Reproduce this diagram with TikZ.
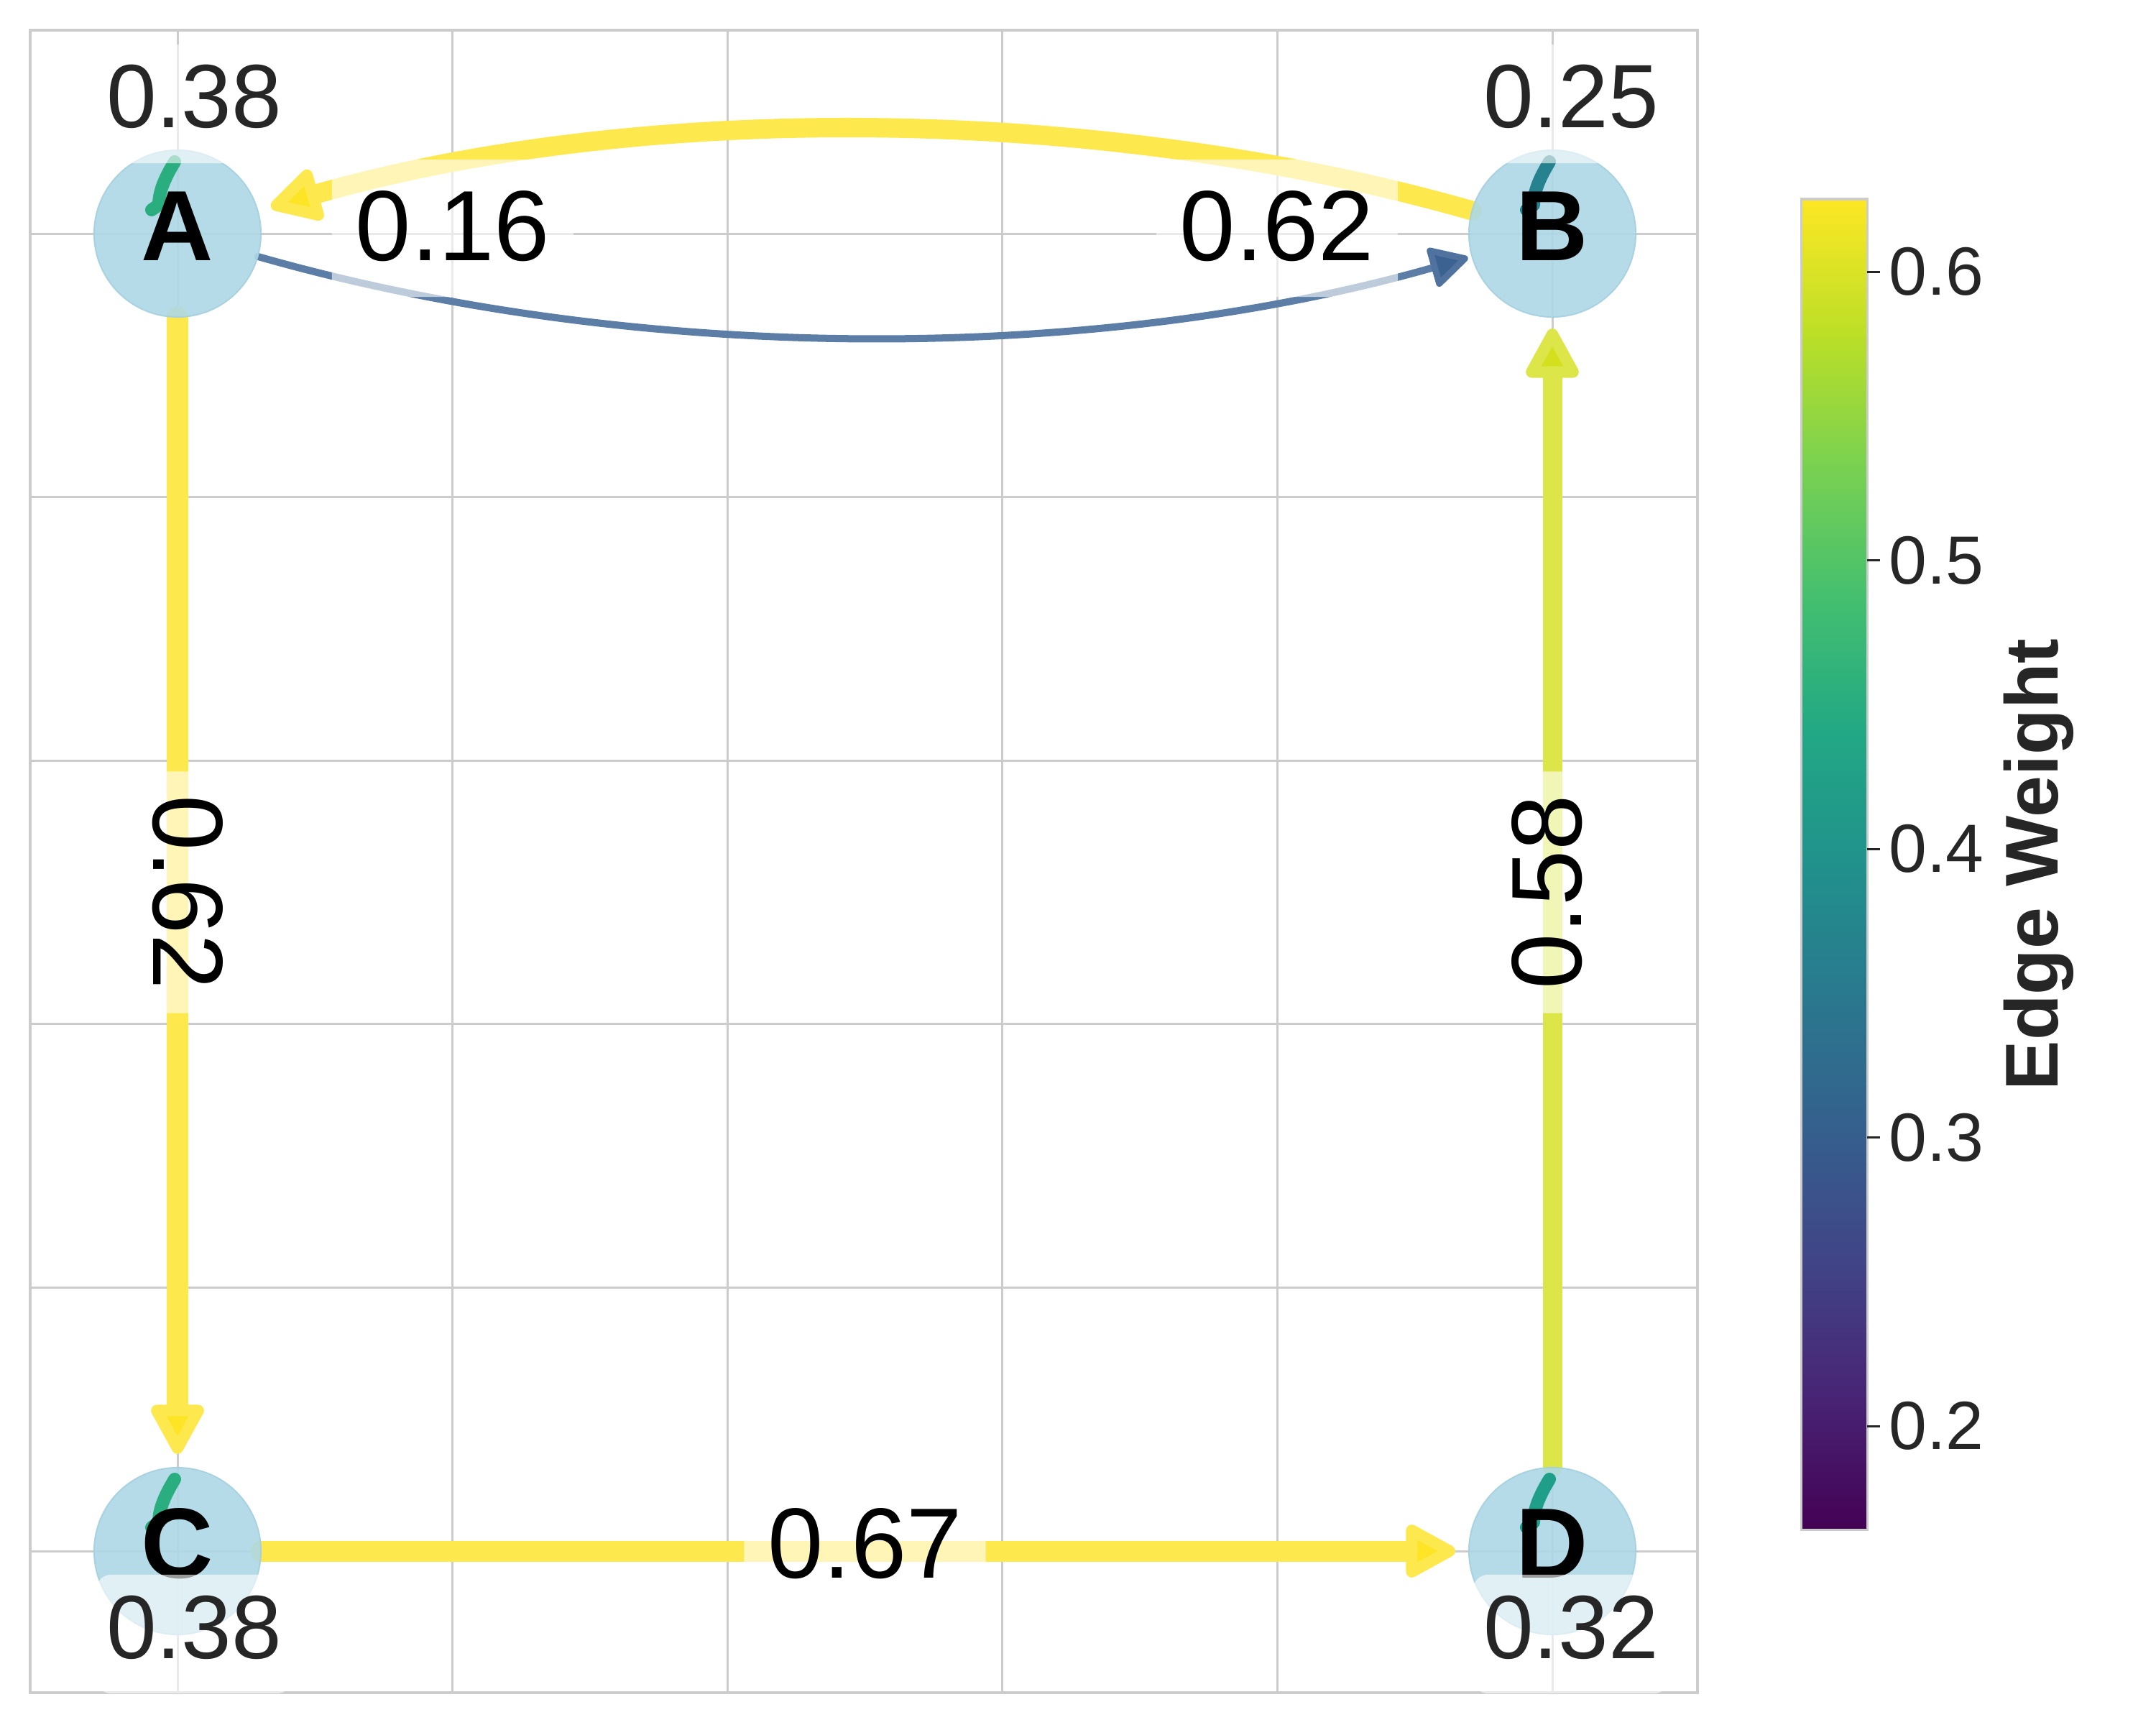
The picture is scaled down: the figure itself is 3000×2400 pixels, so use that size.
\documentclass[tikz,border=0pt]{standalone}
\usepackage{fontspec}
\setmainfont{Liberation Sans}
\usetikzlibrary{arrows.meta,calc}
\definecolor{txt}{RGB}{38,38,38}
\definecolor{gridc}{RGB}{204,204,204}
\definecolor{nodefill}{RGB}{173,216,230}
\definecolor{nodeedge}{RGB}{166,208,224}
\definecolor{yelLine}{RGB}{253,232,77}
\definecolor{yelHead}{RGB}{253,229,37}
\definecolor{limeLine}{RGB}{220,230,72}
\definecolor{limeHead}{RGB}{212,224,30}
\definecolor{bluLine}{RGB}{92,126,166}
\definecolor{bluHead}{RGB}{59,98,144}
\definecolor{bluHeadS}{RGB}{80,114,158}
\definecolor{loopAC}{RGB}{42,174,128}
\definecolor{loopB}{RGB}{38,130,142}
\definecolor{loopD}{RGB}{31,158,137}
\definecolor{v0}{HTML}{440154}
\definecolor{v1}{HTML}{482475}
\definecolor{v2}{HTML}{414487}
\definecolor{v3}{HTML}{355F8D}
\definecolor{v4}{HTML}{2A788E}
\definecolor{v5}{HTML}{21918C}
\definecolor{v6}{HTML}{22A884}
\definecolor{v7}{HTML}{44BF70}
\definecolor{v8}{HTML}{7AD151}
\definecolor{v9}{HTML}{BDDF26}
\definecolor{v10}{HTML}{FDE725}
\pgfdeclareverticalshading{viridis}{100bp}{color(0bp)=(v0); color(25bp)=(v0); color(30bp)=(v1); color(35bp)=(v2); color(40bp)=(v3); color(45bp)=(v4); color(50bp)=(v5); color(55bp)=(v6); color(60bp)=(v7); color(65bp)=(v8); color(70bp)=(v9); color(75bp)=(v10); color(100bp)=(v10)}
\pgfdeclarelayer{bg}
\pgfdeclarelayer{edges}
\pgfsetlayers{bg,edges,main}
\tikzset{
  gnode/.style={circle, minimum size=2.32cm, inner sep=0pt, outer sep=0pt, fill=nodefill, fill opacity=0.9, draw=nodeedge, draw opacity=0.9, line width=0.02cm},
  letter/.style={font=\bfseries\fontsize{39.5}{40}\selectfont, text=black, inner sep=0pt, anchor=base},
  nval/.style={font=\fontsize{35.6}{40}\selectfont, text=txt, fill=white, fill opacity=0.6, text opacity=1, inner xsep=0.14cm, inner ysep=0pt, text height=1.16cm, text depth=0.49cm, rounded corners=0.2cm, anchor=base},
  elab/.style={font=\fontsize{39.5}{40}\selectfont, text=black, fill=white, fill opacity=0.6, text opacity=1, inner xsep=0.33cm, inner ysep=0pt, text height=1.40cm, text depth=0.51cm, rounded corners=0.2cm, anchor=base},
  yedge/.style={draw=yelLine, line width=0.29cm, line cap=round, shorten >=0.19cm, -{Triangle[length=0.78cm, width=0.80cm, line width=0.16cm, round, color=yelLine, fill=yelHead]}},
  limeedge/.style={draw=limeLine, line width=0.27cm, line cap=round, shorten >=0.16cm, -{Triangle[length=0.78cm, width=0.80cm, line width=0.16cm, round, color=limeLine, fill=limeHead]}},
  bedge/.style={draw=bluLine, line width=0.10cm, line cap=round, shorten >=0.06cm, -{Triangle[length=0.58cm, width=0.60cm, line width=0.09cm, round, color=bluHeadS, fill=bluHead]}},
  loopst/.style={line width=0.18cm, line cap=round, line join=round},
  gridline/.style={draw=gridc, line width=0.03cm},
  ticklab/.style={font=\fontsize{27}{30}\selectfont, text=txt, inner sep=0pt, anchor=west}
}
\newcommand\selfloop[2]{\draw[loopst,draw=#2] ($(#1.center)+(-4,-100)$) .. controls ($(#1.center)+(-16,-80)$) and ($(#1.center)+(-26,-60)$) .. ($(#1.center)+(-26,-40)$) -- ($(#1.center)+(-36,-33)$);}
\begin{document}
\begin{tikzpicture}[x=0.01cm,y=-0.01cm]
\useasboundingbox (0,0) rectangle (3000,2400);
\begin{pgfonlayer}{bg}
\fill[white] (0,0) rectangle (3000,2400);
\foreach \gx in {247,629.6,1012.2,1394.8,1777.4,2160} {\draw[gridline] (\gx,42) -- (\gx,2355);}
\foreach \gy in {325,691.6,1058.2,1424.8,1791.4,2158} {\draw[gridline] (42,\gy) -- (2362,\gy);}
\draw[gridline, line width=0.035cm] (42,42) rectangle (2362,2355);
\end{pgfonlayer}
% nodes
\node[gnode] (A) at (247,325) {};
\node[gnode] (B) at (2160,325) {};
\node[gnode] (C) at (247,2158) {};
\node[gnode] (D) at (2160,2158) {};
% edges
\begin{pgfonlayer}{edges}
\draw[yedge] (A) -- (C);
\draw[yedge] (C) -- (D);
\draw[limeedge] (D) -- (B);
\draw[yedge, line width=0.27cm] (B) .. controls (1522.3,143) and (884.7,143) .. (A);
\draw[bedge] (A) .. controls (884.7,507) and (1522.3,507) .. (B);
\end{pgfonlayer}
% self loops
\selfloop{A}{loopAC}
\selfloop{B}{loopB}
\selfloop{C}{loopAC}
\selfloop{D}{loopD}
% letters
\node[letter] (lA) at (247,362) {A};
\node[letter] (lB) at (2160,362) {B};
\node[letter] (lC) at (247,2195) {C};
\node[letter] (lD) at (2160,2195) {D};
% node values
\node[nval] (vA) at (270,178) {0.38};
\node[nval] (vB) at (2186,178) {0.25};
\node[nval] (vC) at (270,2307) {0.38};
\node[nval] (vD) at (2186,2307) {0.32};
% edge labels
\node[elab] (e1) at (630,362) {0.16};
\node[elab] (e2) at (1777,362) {0.62};
\node[elab] (e3) at (1203.5,2195) {0.67};
\node[elab, rotate=-90] (e4) at (213,1241.5) {0.62};
\node[elab, rotate=90] (e5) at (2200,1241.5) {0.58};
% colorbar
\shade[shading=viridis] (2506,277) rectangle (2598,2128);
\draw[gridc, line width=0.03cm] (2506,277) rectangle (2598,2128);
\foreach \ty/\tl/\tn in {378/0.6/1, 779.5/0.5/2, 1181/0.4/3, 1582.5/0.3/4, 1984/0.2/5} {
  \draw[txt, line width=0.03cm] (2598,\ty) -- (2616,\ty);
  \node[ticklab] (tk\tn) at (2628,\ty) {\tl};
}
\node[rotate=90, anchor=base, font=\bfseries\fontsize{29.6}{30}\selectfont, text=txt, inner sep=0pt] (cbl) at (2863,1203) {Edge Weight};
\end{tikzpicture}
\end{document}
